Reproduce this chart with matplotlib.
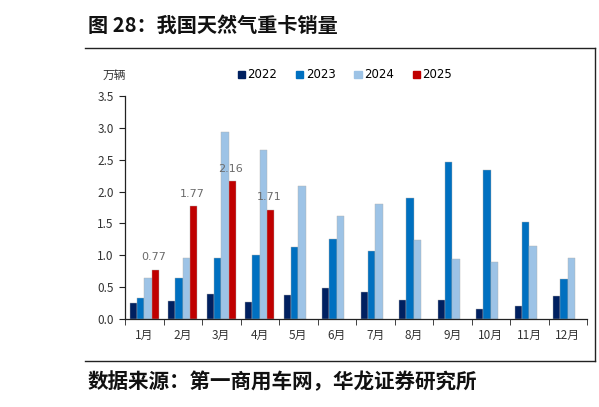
import numpy as np
import matplotlib.pyplot as plt
from matplotlib.patches import Patch
from matplotlib.lines import Line2D

plt.rcParams['font.family'] = ['Noto Sans CJK SC', 'DejaVu Sans']

# 数据
months = ['1月', '2月', '3月', '4月', '5月', '6月', '7月', '8月', '9月', '10月', '11月', '12月']
sales_2022 = [0.25, 0.28, 0.39, 0.27, 0.38, 0.48, 0.42, 0.30, 0.30, 0.16, 0.21, 0.36]
sales_2023 = [0.33, 0.65, 0.96, 1.01, 1.13, 1.26, 1.07, 1.90, 2.47, 2.34, 1.53, 0.62]
sales_2024 = [0.64, 0.96, 2.94, 2.65, 2.08, 1.62, 1.80, 1.24, 0.94, 0.90, 1.14, 0.96]
sales_2025 = [0.77, 1.77, 2.16, 1.71]

years = ['2022', '2023', '2024', '2025']
colors = ['#002060', '#0070C0', '#9DC3E6', '#C00000']
series = [sales_2022, sales_2023, sales_2024, sales_2025]

fig = plt.figure(figsize=(5.99, 4.07), dpi=100)
ax = fig.add_axes([125/599, 1 - 319/407, 462/599, 223/407])

x = np.arange(len(months))
w = 0.19
for i, (vals, c) in enumerate(zip(series, colors)):
  pos = x[:len(vals)] + (i - 1.5) * w
  ax.bar(pos, vals, width=w, color=c, edgecolor='#b0b0b0', linewidth=0.3, label=years[i])

# 2025 数据标签
for i, v in enumerate(sales_2025):
  ax.text(x[i] + 1.5 * w - 0.05, v + 0.12, '%.2f' % v, ha='center', va='bottom',
          fontsize=8, color='#6a6a6a', family='DejaVu Sans')

ax.set_xlim(-0.5, len(months) - 0.5)
ax.set_ylim(0, 3.5)
ax.set_yticks(np.arange(0, 3.51, 0.5))
ax.set_yticklabels(['%.1f' % t for t in np.arange(0, 3.51, 0.5)], fontsize=8.5, color='#333333')
ax.set_xticks(x)
ax.set_xticklabels(months, fontsize=8.5, color='#333333')
ax.set_xticks(np.arange(-0.5, len(months), 1), minor=True)
ax.tick_params(axis='x', which='major', length=0, pad=7)
ax.tick_params(axis='x', which='minor', length=4, direction='out', color='#222222')
ax.tick_params(axis='y', length=4, direction='out', color='#222222', pad=4)
for s in ['top', 'right']:
  ax.spines[s].set_visible(False)
for s in ['left', 'bottom']:
  ax.spines[s].set_color('#222222')
  ax.spines[s].set_linewidth(0.9)

fig.text(103/599, 1 - 75/407, '万辆', fontsize=8.5, color='#333333', va='center')

handles = [Patch(color=c) for c in colors]
fig.legend(handles, years, loc='center', bbox_to_anchor=(345/599, 1 - 75/407), ncol=4,
           frameon=False, handlelength=0.6, handleheight=0.6,
           handletextpad=0.2, columnspacing=1.6, prop={'family': 'DejaVu Sans', 'size': 8.5})

# 标题与来源
fig.text(88/599, 1 - 25/407, '图 28：我国天然气重卡销量', fontsize=14.5, fontweight='bold',
         va='center', color='#111111')
fig.text(88/599, 1 - 382/407, '数据来源：第一商用车网，华龙证券研究所', fontsize=14.8,
         fontweight='bold', va='center', color='#111111')

fig.add_artist(Line2D([85/599, 595/599], [1 - 48/407, 1 - 48/407], color='#222222', lw=1))
fig.add_artist(Line2D([85/599, 595/599], [1 - 361/407, 1 - 361/407], color='#222222', lw=1))
fig.add_artist(Line2D([595/599, 595/599], [1 - 48/407, 1 - 361/407], color='#222222', lw=1))

fig.savefig('out.png', dpi=100)
